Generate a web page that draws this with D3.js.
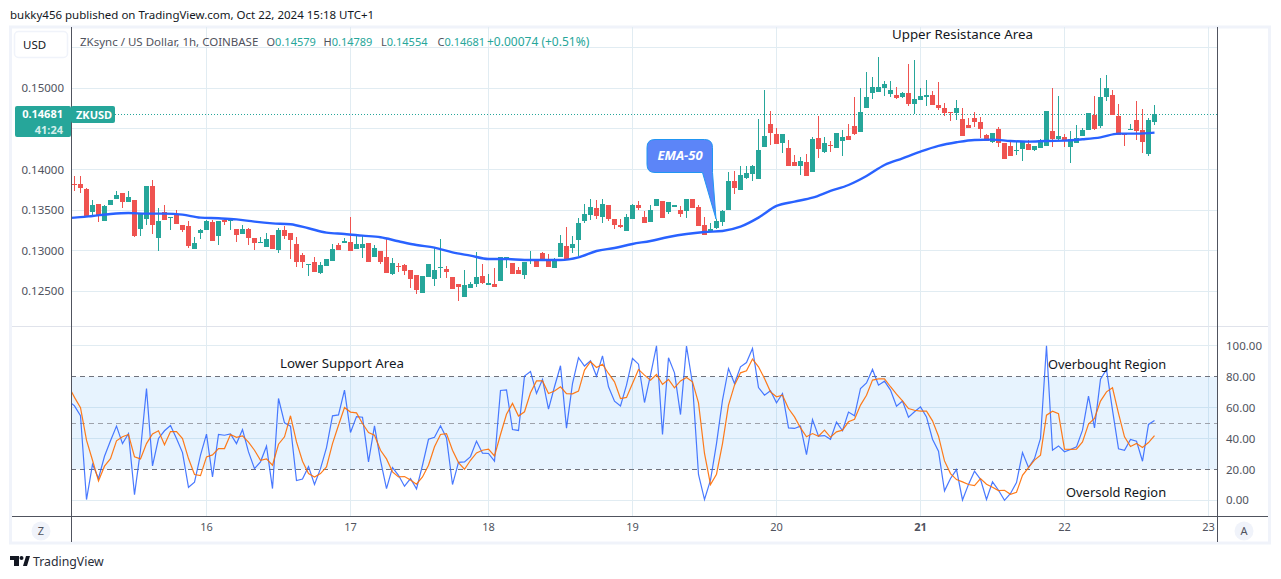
<!DOCTYPE html>
<html>
<head>
<meta charset="utf-8">
<style>
  html, body { margin: 0; padding: 0; background: #fff; }
  svg { display: block; }
  text { font-family: "Noto Sans", sans-serif; }
</style>
</head>
<body>
<svg id="chart" width="1281" height="579"></svg>
<script src="https://cdn.jsdelivr.net/npm/d3@7"></script>
<script>
// hourly candles, one entry per bar
var opens = [.13822,.13822,.13760,.13477,.13575,.13366,.13563,.13637,.13711,.13600,.13625,.13267,.13391,.13797,.13157,.13477,.13403,.13440,.13317,.13304,
  .13021,.13218,.13255,.13354,.13181,.13378,.13366,.13267,.13206,.13267,.13157,.13095,.13046,.13194,.13009,.13255,.13218,.13083,.12947,.12824,
  .12861,.12726,.12812,.12873,.13070,.13095,.13107,.13021,.13033,.13095,.12923,.12996,.12923,.12713,.12812,.12824,.12763,.12701,.12479,.12676,
  .12652,.12787,.12775,.12676,.12590,.12430,.12541,.12590,.12689,.12578,.12590,.12627,.12910,.12849,.12763,.12701,.12886,.12886,.12972,.12873,
  .12787,.12923,.13058,.13033,.13132,.13366,.13440,.13526,.13415,.13563,.13391,.13317,.13243,.13391,.13563,.13415,.13354,.13551,.13612,.13477,
  .13538,.13501,.13489,.13637,.13538,.13317,.13230,.13280,.13354,.13502,.13859,.13748,.13896,.13945,.13883,.14277,.14561,.14438,.14327,.14265,
  .14093,.14043,.14093,.13970,.14388,.14216,.14302,.14265,.14351,.14413,.14536,.14462,.14758,.14942,.14955,.15004,.14930,.14918,.14893,.14942,
  .14807,.14856,.14893,.14918,.14795,.14758,.14708,.14696,.14622,.14548,.14635,.14585,.14425,.14339,.14499,.14327,.14290,.14228,.14253,.14314,
  .14241,.14265,.14290,.14474,.14376,.14401,.14277,.14327,.14413,.14487,.14672,.14536,.14893,.14918,.14659,.14438,.14487,.14610,.14487,.14191,.14579];
var highs = [.13920,.13920,.13772,.13625,.13575,.13563,.13625,.13735,.13711,.13735,.13625,.13452,.13797,.13871,.13526,.13563,.13415,.13501,.13317,.13366,
  .13169,.13267,.13378,.13378,.13366,.13403,.13391,.13267,.13317,.13280,.13157,.13169,.13218,.13194,.13280,.13304,.13218,.13169,.12972,.12836,
  .12923,.12861,.12898,.13083,.13095,.13157,.13415,.13181,.13181,.13095,.13070,.12996,.13157,.12910,.12849,.12836,.12763,.12701,.12689,.12836,
  .13046,.13144,.12812,.12676,.12590,.12763,.12615,.12984,.12836,.12713,.12787,.12923,.12923,.12849,.12799,.12861,.12996,.12886,.12984,.12960,
  .12910,.13194,.13292,.13181,.13403,.13575,.13637,.13625,.13637,.13563,.13391,.13391,.13452,.13575,.13612,.13489,.13563,.13637,.13612,.13600,
  .13563,.13551,.13637,.13637,.13563,.13415,.13341,.13391,.13501,.13970,.13982,.14043,.14043,.14056,.14622,.14979,.14721,.14511,.14438,.14364,
  .14179,.14154,.14191,.14401,.14659,.14401,.14351,.14450,.14487,.14561,.14893,.15004,.15201,.15140,.15386,.15090,.15090,.15016,.14955,.15300,
  .15349,.15004,.15103,.14967,.15078,.14819,.14708,.14856,.14758,.14635,.14708,.14647,.14438,.14450,.14524,.14327,.14351,.14339,.14339,.14364,
  .14290,.14376,.14721,.15004,.14906,.14438,.14474,.14548,.14511,.14696,.14906,.15127,.15164,.14979,.14807,.14450,.14561,.14844,.14745,.14635,.14789];
var lows = [.13735,.13711,.13428,.13440,.13354,.13366,.13563,.13637,.13526,.13600,.13169,.13181,.13317,.13206,.12996,.13378,.13255,.13329,.13230,.13033,
  .13021,.13144,.13255,.13120,.13070,.13317,.13255,.13107,.13206,.13070,.13009,.13095,.13046,.13021,.12972,.13144,.12898,.12799,.12787,.12689,
  .12738,.12713,.12812,.12873,.13009,.13095,.12996,.13021,.12910,.12861,.12923,.12836,.12726,.12701,.12738,.12701,.12541,.12467,.12479,.12676,
  .12565,.12664,.12664,.12528,.12381,.12430,.12541,.12553,.12590,.12578,.12553,.12627,.12787,.12713,.12713,.12652,.12836,.12799,.12873,.12799,
  .12787,.12923,.12886,.12972,.12935,.13341,.13378,.13391,.13341,.13366,.13267,.13280,.13243,.13391,.13501,.13341,.13354,.13551,.13403,.13452,
  .13538,.13415,.13403,.13526,.13304,.13194,.13230,.13267,.13304,.13502,.13699,.13748,.13883,.13859,.13883,.14277,.14302,.14314,.14204,.14043,
  .14043,.13933,.13920,.13970,.14142,.14204,.14216,.14265,.14167,.14364,.14425,.14462,.14758,.14869,.14955,.14906,.14893,.14869,.14881,.14782,
  .14684,.14856,.14782,.14795,.14733,.14659,.14598,.14610,.14413,.14511,.14524,.14388,.14351,.14327,.14277,.14130,.14167,.14179,.14105,.14241,
  .14228,.14265,.14290,.14277,.14364,.14277,.14080,.14327,.14413,.14487,.14487,.14511,.14844,.14672,.14425,.14290,.14487,.14364,.14204,.14167,.14554];
var closes = [.13809,.13772,.13428,.13563,.13428,.13551,.13625,.13686,.13600,.13662,.13181,.13452,.13797,.13317,.13366,.13378,.13415,.13329,.13255,.13058,
  .13095,.13255,.13366,.13120,.13366,.13354,.13378,.13194,.13267,.13157,.13095,.13107,.13144,.13021,.13255,.13181,.13132,.12861,.12861,.12836,
  .12738,.12824,.12898,.13021,.13009,.13120,.12996,.13083,.13083,.12861,.13033,.12861,.12726,.12849,.12799,.12750,.12652,.12516,.12689,.12836,
  .12763,.12799,.12738,.12528,.12553,.12578,.12590,.12676,.12602,.12602,.12553,.12923,.12923,.12713,.12713,.12861,.12898,.12799,.12873,.12799,
  .12886,.13095,.12886,.13083,.13341,.13452,.13538,.13428,.13575,.13391,.13317,.13292,.13415,.13563,.13526,.13341,.13501,.13637,.13403,.13600,
  .13563,.13452,.13637,.13526,.13304,.13194,.13267,.13366,.13489,.13859,.13773,.13933,.13957,.14043,.14241,.14413,.14450,.14314,.14438,.14043,
  .14043,.14105,.13920,.14376,.14253,.14327,.14290,.14450,.14401,.14364,.14438,.14708,.14893,.15016,.15016,.15053,.14979,.14881,.14942,.14807,
  .14869,.14906,.14918,.14795,.14758,.14696,.14696,.14758,.14413,.14511,.14585,.14499,.14351,.14450,.14327,.14130,.14167,.14241,.14339,.14241,
  .14290,.14364,.14721,.14376,.14413,.14364,.14376,.14388,.14487,.14696,.14499,.14893,.15004,.14672,.14425,.14425,.14499,.14474,.14339,.14610,.14681];

// EMA-50, read every third bar, the first reading sits just left of the pane
var emaStep = 3;
var ema50 = [.13398,.13407,.13428,.13452,.13464,.13456,.13456,.13444,.13407,.13399,.13386,.13358,.13337,.13325,.13276,.13222,.13206,.13185,.13165,.13116,
  .13070,.13038,.12980,.12939,.12898,.12898,.12886,.12886,.12886,.12918,.12996,.13033,.13083,.13120,.13169,.13206,.13230,.13243,.13296,.13407,
  .13551,.13604,.13653,.13736,.13809,.13920,.14056,.14138,.14220,.14290,.14335,.14364,.14368,.14351,.14343,.14351,.14355,.14372,.14396,.14442,.14442,.14454];

// lower pane: RSI and its moving average, one entry per bar, first entry is the bar before the pane
var rsi = [64.2,61.1,54.7,0.5,23.3,14.1,28.5,38.5,48,36.7,43.2,3.7,32.4,72.4,22.3,40,45,48.4,40,30.9,8.4,
  11.7,29.2,42.8,15.1,42.6,42.1,43,36.7,45.8,31.3,20.5,24.9,35,7.6,65.9,50.1,48,12.8,13.8,21.8,
  10.2,20.5,34.1,54.7,55.3,71.3,43.9,54.2,53.8,24.9,48.2,25.9,7.6,21.2,16.2,9.1,14.1,7.4,22.7,39.5,
  40.8,48.2,40.4,10.2,24.6,24.9,28.3,38.3,30.5,30.3,25.3,71.1,71.5,45.8,45.2,80.4,83.4,69.1,78.2,59,
  73.5,87.1,46.7,75.6,92.3,86.9,90.3,80.4,93.5,73.5,64.2,61.1,74.5,91.8,88.1,63.3,81,100,42.6,92.3,
  82.5,55.5,99.8,75.6,16.7,0.5,13,36.7,64.8,85.3,75.6,86.4,89.2,98.3,73,68,70.9,63.1,69.1,46.9,
  46.5,48,29.6,52.3,41.5,41.9,39.5,50.6,45,57.1,54.7,72.4,76,84.7,74.5,77.1,71.3,60.9,64.2,53.8,
  57.3,60.5,54,39.5,31.8,6.1,14.1,19.9,0.2,10.3,18.8,13.6,0.5,11.9,6.5,0,4.4,11.5,30.9,21.2,
  27,40,100,32.4,35.2,31.4,32.9,34.6,45.4,67.4,46.9,78.4,84.7,58.4,33.3,32.4,39.4,38.3,25.3,49.1,51.7];
var rsiMa = [73.9,66.6,59.9,38.9,25.9,12.5,22.1,27,38.5,41.1,42.6,28.1,26.8,36.7,43,45,35.9,44.5,44.5,40,27,
  16.7,16,28.1,29.4,33.5,33.5,42.6,40.8,41.7,37.6,32.4,25.9,26.8,22.7,36.3,41.1,54.7,37.8,25.3,17.3,
  15.1,17.3,21.6,36.7,48.6,60.1,57.1,56.6,49.7,43.9,42.1,32.4,26.8,18.4,15.1,15.4,13.2,10.4,15.1,22.7,
  34.6,42.6,43.2,32.4,24.4,20.1,25.9,30.7,32.4,33.1,28.7,42.6,55.7,62.7,54.5,57.3,69.6,77.3,77.3,69.1,
  70.7,73.5,69.1,68.9,70.7,84.3,89.7,86,88.1,82.1,76.7,65.9,66.6,75.6,84.7,81,77.8,81.4,75,78.2,
  72.8,77.3,79.5,76.7,63.1,30.3,10.2,16.9,36.7,61.6,74.5,82.5,83.8,91.4,86.4,78.9,70.2,67,68,59.4,
  54,46.9,41.1,43.2,41.5,45.4,40.8,44.3,45.4,50.8,52.5,61.6,68,77.8,78.6,78.6,73.5,68.7,64.4,59.4,
  58.3,57.7,57.7,51.4,41.5,25.5,17.3,13.4,11.9,10.2,9.5,14.1,10.4,8.5,6.3,6.5,3.9,5.2,16.2,21.2,
  26,29.2,55.1,57.7,56,33.1,32.9,33.1,37.8,49.3,53,64.2,70.2,72.8,56.2,41.1,34.8,36.8,34.2,37.4,41.9];

var priceGrid = [.155,.15,.145,.14,.135,.13,.125];
var priceLabels = [.15,.14,.135,.13,.125];
var rsiGrid = [100,60,40,0];
var rsiLabels = [100,80,60,40,20,0];
var bandLevels = [80,50,20];
var dayBars = [22,46,69,93,117,141,165,189];
var dayLabels = ["16","17","18","19","20","21","22","23"];
var lastPrice = .14681;

var gridColor = "#e1ecf2", axisColor = "#50535e", frameColor = "#f0f3fa", textColor = "#131722", labelColor = "#50535e";
var up = "#26a69a", down = "#ef5350";

// window.top is read only, so the pane edges get their own names
var paneLeft = 71, paneRight = 1217, paneTop = 27, paneSplit = 326, timeLine = 516, paneBottom = 543;

var svg = d3.select("#chart");
var xBar = d3.scaleLinear().domain([0, 189]).range([74.5, 1208.5]);
var yPrice = d3.scaleLinear().domain([.15, .125]).range([88.3, 291.3]);
var yRsi = d3.scaleLinear().domain([100, 0]).range([345.8, 500.3]);

svg.append("clipPath").attr("id", "pane").append("rect")
  .attr("x", paneLeft).attr("y", paneTop).attr("width", paneRight - paneLeft).attr("height", timeLine - paneTop);

// frame and grid
svg.append("rect").attr("x", 10.5).attr("y", 27).attr("width", 1259).attr("height", 516)
  .attr("fill", "#fff").attr("stroke", frameColor).attr("stroke-width", 3);

var grid = svg.append("g").attr("shape-rendering", "crispEdges").attr("stroke", gridColor);
grid.selectAll(".vt").data(dayBars).enter().append("line")
  .attr("x1", function(d) { return xBar(d); }).attr("x2", function(d) { return xBar(d); })
  .attr("y1", paneTop).attr("y2", timeLine);
grid.selectAll(".hp").data(priceGrid).enter().append("line")
  .attr("x1", paneLeft).attr("x2", paneRight)
  .attr("y1", function(d) { return yPrice(d); }).attr("y2", function(d) { return yPrice(d); });

// rsi band goes under the rsi grid
svg.append("rect").attr("x", paneLeft).attr("width", paneRight - paneLeft)
  .attr("y", yRsi(bandLevels[0])).attr("height", yRsi(bandLevels[2]) - yRsi(bandLevels[0]))
  .attr("fill", "#2196f3").attr("fill-opacity", 0.11);
grid.selectAll(".hr").data(rsiGrid).enter().append("line")
  .attr("x1", paneLeft).attr("x2", paneRight)
  .attr("y1", function(d) { return yRsi(d); }).attr("y2", function(d) { return yRsi(d); });
svg.selectAll(".band").data(bandLevels).enter().append("line")
  .attr("x1", paneLeft).attr("x2", paneRight)
  .attr("y1", function(d) { return yRsi(d); }).attr("y2", function(d) { return yRsi(d); })
  .attr("stroke", function(d) { return d == 50 ? "#9ea2ab" : "#6f727c"; })
  .attr("stroke-dasharray", "5 4").attr("shape-rendering", "crispEdges");

// last price line
svg.append("line").attr("x1", 115).attr("x2", paneRight)
  .attr("y1", yPrice(lastPrice)).attr("y2", yPrice(lastPrice))
  .attr("stroke", up).attr("stroke-dasharray", "1 2").attr("shape-rendering", "crispEdges");

// candles
var candle = svg.append("g").attr("shape-rendering", "crispEdges").selectAll("g")
  .data(opens).enter().append("g")
  .attr("fill", function(d, i) { return closes[i] >= opens[i] ? up : down; });
candle.append("rect")
  .attr("x", function(d, i) { return xBar(i) - 0.5; }).attr("width", 1)
  .attr("y", function(d, i) { return yPrice(highs[i]); })
  .attr("height", function(d, i) { return yPrice(lows[i]) - yPrice(highs[i]); });
candle.append("rect")
  .attr("x", function(d, i) { return xBar(i) - 2.5; }).attr("width", 5)
  .attr("y", function(d, i) { return yPrice(Math.max(opens[i], closes[i])); })
  .attr("height", function(d, i) { return Math.max(1, Math.abs(yPrice(opens[i]) - yPrice(closes[i]))); });

// ema
var emaLine = d3.line().curve(d3.curveMonotoneX)
  .x(function(d, i) { return xBar((i - 1) * emaStep); }).y(function(d) { return yPrice(d); });
svg.append("path").datum(ema50).attr("d", emaLine).attr("clip-path", "url(#pane)")
  .attr("fill", "none").attr("stroke", "#2962ff").attr("stroke-width", 2.4);

// rsi lines
var rsiLine = d3.line().x(function(d, i) { return xBar(i - 1); }).y(function(d) { return yRsi(d); });
svg.append("path").datum(rsi).attr("d", rsiLine).attr("clip-path", "url(#pane)")
  .attr("fill", "none").attr("stroke", "#2962ff").attr("stroke-opacity", 0.85).attr("stroke-width", 1.2);
svg.append("path").datum(rsiMa).attr("d", rsiLine).attr("clip-path", "url(#pane)")
  .attr("fill", "none").attr("stroke", "#ff6d00").attr("stroke-opacity", 0.9).attr("stroke-width", 1.2);

// pane separators and axes
var lines = svg.append("g").attr("shape-rendering", "crispEdges");
lines.append("line").attr("x1", 12).attr("x2", 1268).attr("y1", paneSplit + 0.5).attr("y2", paneSplit + 0.5).attr("stroke", "#e0e3eb");
lines.append("line").attr("x1", 12).attr("x2", 1268).attr("y1", timeLine + 0.5).attr("y2", timeLine + 0.5).attr("stroke", axisColor);
lines.append("line").attr("x1", paneLeft + 0.5).attr("x2", paneLeft + 0.5).attr("y1", paneTop).attr("y2", paneBottom - 1).attr("stroke", axisColor);
lines.append("line").attr("x1", paneRight + 0.5).attr("x2", paneRight + 0.5).attr("y1", paneTop).attr("y2", paneBottom - 1).attr("stroke", axisColor);

function plainAxis(g, size) {
  g.select(".domain").remove();
  g.selectAll(".tick text").attr("fill", labelColor).attr("font-family", '"Noto Sans", sans-serif').attr("font-size", size);
}
svg.append("g").attr("transform", "translate(64,0)")
  .call(d3.axisLeft(yPrice).tickValues(priceLabels).tickFormat(d3.format(".5f")).tickSize(0).tickPadding(0))
  .call(plainAxis, 11.5);
svg.append("g").attr("transform", "translate(1226,0)")
  .call(d3.axisRight(yRsi).tickValues(rsiLabels).tickFormat(d3.format(".2f")).tickSize(0).tickPadding(0))
  .call(plainAxis, 11.5);
svg.append("g").attr("transform", "translate(-0.5,523)")
  .call(d3.axisBottom(xBar).tickValues(dayBars).tickFormat(function(d, i) { return dayLabels[i]; }).tickSize(0).tickPadding(0))
  .call(plainAxis, 11)
  .selectAll(".tick text").attr("font-weight", function(d, i) { return dayLabels[i] == "21" ? 700 : 400; });

// header, legend and annotations
function label(x, y, str, opts) {
  opts = opts || {};
  return svg.append("text").attr("x", x).attr("y", y).text(str)
    .attr("font-size", opts.size || 12)
    .attr("fill", opts.color || textColor)
    .attr("font-weight", opts.weight || 400)
    .attr("font-style", opts.style || "normal")
    .attr("text-anchor", opts.anchor || "start");
}
label(10, 19, "bukky456 published on TradingView.com, Oct 22, 2024 15:18 UTC+1", { size: 11.5 });
label(80, 46, "ZKsync / US Dollar, 1h, COINBASE", { color: labelColor, size: 11.5 });
[[266.5, "O", "0.14579"], [323.5, "H", "0.14789"], [381, "L", "0.14554"], [437.5, "C", "0.14681"]].forEach(function(d) {
  var t = label(d[0], 46, d[1], { color: labelColor, size: 11 });
  t.append("tspan").attr("fill", up).text(d[2]);
});
label(487, 46, "+0.00074 (+0.51%)", { color: up, size: 12 });

label(892, 39, "Upper Resistance Area", { size: 13.3 });
label(280, 368, "Lower Support Area", { size: 13.3 });
label(1048, 369, "Overbought Region", { size: 12.8 });
label(1066, 497, "Oversold Region", { size: 12.9 });

// usd button
svg.append("rect").attr("x", 14.5).attr("y", 31.5).attr("width", 53).attr("height", 26).attr("rx", 4)
  .attr("fill", "#fff").attr("stroke", frameColor).attr("stroke-width", 1.5);
label(23, 48.5, "USD", { size: 11.5 });

// last price badges
svg.append("rect").attr("x", 15).attr("y", 106).attr("width", 56).attr("height", 31).attr("rx", 2).attr("fill", up);
svg.append("rect").attr("x", 71).attr("y", 106).attr("width", 44).attr("height", 17).attr("rx", 2).attr("fill", up);
label(63, 118, d3.format(".5f")(lastPrice), { anchor: "end", color: "#fff", weight: 700, size: 11 });
label(63, 133.5, "41:24", { anchor: "end", color: "#d4eeeb", weight: 700, size: 11 });
label(76, 118.5, "ZKUSD", { color: "#fff", weight: 700, size: 11 });

// ema-50 callout, tip sits on the candle it points at
var tip = [xBar(107) - 0.5, yPrice(.13391)];
svg.append("path")
  .attr("d", "M655,139.5 H704.5 Q712.5,139.5 712.5,147.5 V172.5 L" + tip[0] + "," + tip[1] + " L702.5,172.5 H655 Q647,172.5 647,164.5 V147.5 Q647,139.5 655,139.5 Z")
  .attr("fill", "#5c85f8").attr("stroke", "#2196f3").attr("stroke-width", 1);
label(680, 160, "EMA-50", { anchor: "middle", color: "#fff", weight: 700, style: "italic", size: 13 });

// scale buttons
[[41, "Z"], [1244, "A"]].forEach(function(d) {
  svg.append("circle").attr("cx", d[0]).attr("cy", 531).attr("r", 9.5).attr("fill", frameColor);
  label(d[0], 535, d[1], { anchor: "middle", size: 11, color: labelColor });
});

// footer logo
svg.append("path").attr("d", "M10,556 H19 V566 H14 V560 H10 Z M23,566 L26,556 H30 L27,566 Z").attr("fill", "#131722");
svg.append("circle").attr("cx", 21.5).attr("cy", 558).attr("r", 2).attr("fill", "#131722");
label(33, 566, "TradingView", { size: 12.3, color: "#2a2e39" });
</script>
</body>
</html>
